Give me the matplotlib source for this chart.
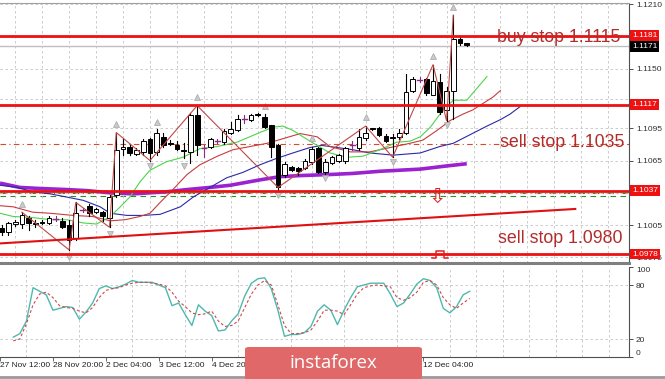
import matplotlib
matplotlib.use("Agg")
import matplotlib.pyplot as plt
from matplotlib.patches import Rectangle, FancyBboxPatch
from matplotlib.lines import Line2D

# ---------------- data ----------------
opens = [1.1002, 1.0999, 1.1006, 1.1006, 1.1012, 1.1007, 1.1008, 1.1007, 1.1011, 1.1009,
         1.1005, 1.0993, 1.1019, 1.1023, 1.1017, 1.1017, 1.1012, 1.1033, 1.1076, 1.1078,
         1.1071, 1.1073, 1.1085, 1.1073, 1.1087, 1.1081, 1.1079, 1.1075, 1.1073, 1.1107,
         1.1077, 1.1078, 1.1083, 1.1082, 1.1091, 1.1093, 1.1104, 1.1103, 1.1108, 1.1105,
         1.1098, 1.1079, 1.1052, 1.1059, 1.1058, 1.1058, 1.1064, 1.1077, 1.1054, 1.1063,
         1.1065, 1.1065, 1.1079, 1.1077, 1.1086, 1.1095, 1.1095, 1.1088, 1.1087, 1.1087,
         1.1091, 1.1130, 1.1140, 1.1141, 1.1126, 1.1138, 1.1112, 1.1130, 1.1178, 1.1174]
highs = [1.1005, 1.1008, 1.1010, 1.1017, 1.1013, 1.1010, 1.1010, 1.1013, 1.1013, 1.1012,
         1.1010, 1.1026, 1.1021, 1.1025, 1.1021, 1.1018, 1.1033, 1.1091, 1.1085, 1.1080,
         1.1077, 1.1085, 1.1086, 1.1094, 1.1091, 1.1084, 1.1083, 1.1081, 1.1109, 1.1116,
         1.1079, 1.1086, 1.1085, 1.1094, 1.1101, 1.1107, 1.1107, 1.1108, 1.1109, 1.1108,
         1.1098, 1.1080, 1.1064, 1.1060, 1.1059, 1.1066, 1.1078, 1.1078, 1.1066, 1.1069,
         1.1071, 1.1078, 1.1083, 1.1094, 1.1097, 1.1095, 1.1096, 1.1090, 1.1090, 1.1094,
         1.1145, 1.1143, 1.1143, 1.1142, 1.1154, 1.1145, 1.1133, 1.1200, 1.1180, 1.1174]
lows = [1.0996, 1.0996, 1.1004, 1.1002, 1.1000, 1.1003, 1.1006, 1.1006, 1.1009, 1.1002,
        1.0982, 1.0991, 1.1017, 1.1013, 1.1016, 1.1009, 1.1003, 1.1031, 1.1070, 1.1070,
        1.1070, 1.1070, 1.1065, 1.1070, 1.1078, 1.1079, 1.1075, 1.1067, 1.1063, 1.1070,
        1.1068, 1.1077, 1.1081, 1.1080, 1.1090, 1.1092, 1.1100, 1.1102, 1.1106, 1.1095,
        1.1068, 1.1038, 1.1050, 1.1055, 1.1052, 1.1057, 1.1062, 1.1053, 1.1049, 1.1062,
        1.1064, 1.1063, 1.1075, 1.1075, 1.1084, 1.1093, 1.1088, 1.1082, 1.1068, 1.1085,
        1.1090, 1.1129, 1.1138, 1.1126, 1.1126, 1.1108, 1.1102, 1.1104, 1.1172, 1.1171]
closes = [1.0999, 1.1007, 1.1008, 1.1014, 1.1007, 1.1006, 1.1007, 1.1012, 1.1011, 1.1003,
          1.0991, 1.1016, 1.1019, 1.1016, 1.1020, 1.1013, 1.1031, 1.1075, 1.1078, 1.1072,
          1.1075, 1.1083, 1.1072, 1.1091, 1.1079, 1.1080, 1.1076, 1.1074, 1.1107, 1.1079,
          1.1077, 1.1085, 1.1083, 1.1092, 1.1094, 1.1104, 1.1104, 1.1107, 1.1107, 1.1096,
          1.1078, 1.1040, 1.1062, 1.1056, 1.1055, 1.1065, 1.1076, 1.1054, 1.1064, 1.1068,
          1.1070, 1.1077, 1.1079, 1.1087, 1.1091, 1.1094, 1.1089, 1.1083, 1.1086, 1.1091,
          1.1129, 1.1141, 1.1140, 1.1128, 1.1139, 1.1110, 1.1130, 1.1178, 1.1174, 1.1172]

ma_green_x = [-0.25, 1.7, 4.6, 7.2, 9.7, 12.1, 14.1, 16.1, 17.6, 19.0, 20.5, 22.0, 24.5, 26.9,
              29.4, 32.0, 34.9, 38.3, 40.3, 41.7, 43.2, 44.7, 46.8, 48.7, 51.2, 53.6, 56.1,
              58.6, 60.6, 62.1, 63.6, 65.5, 67.0, 69.0, 70.5, 72.0]
ma_green_y = [1.1016, 1.1013, 1.1012, 1.1010, 1.1010, 1.1007, 1.1006, 1.1013, 1.1022, 1.1031,
              1.1045, 1.1056, 1.1064, 1.1068, 1.1076, 1.1078, 1.1082, 1.1091, 1.1096, 1.1097,
              1.1093, 1.1087, 1.1079, 1.1072, 1.1068, 1.1069, 1.1075, 1.1082, 1.1083, 1.1087,
              1.1096, 1.1112, 1.1121, 1.1121, 1.1132, 1.1143]
ma_red_x = [-0.25, 1.7, 4.6, 7.2, 10.6, 13.5, 16.1, 18.3, 20.5, 22.0, 23.5, 25.4, 27.5, 29.4,
            32.0, 34.3, 39.4, 44.3, 46.8, 48.7, 51.7, 54.6, 57.6, 60.6, 62.5, 64.6, 66.5,
            68.4, 69.9, 71.4, 72.9, 74.0]
ma_red_y = [1.1023, 1.1022, 1.1017, 1.1016, 1.1014, 1.1013, 1.1009, 1.1010, 1.1013, 1.1016,
            1.1026, 1.1038, 1.1052, 1.1061, 1.1069, 1.1075, 1.1081, 1.1090, 1.1087, 1.1078,
            1.1073, 1.1073, 1.1077, 1.1081, 1.1084, 1.1093, 1.1102, 1.1108, 1.1112, 1.1118,
            1.1124, 1.1130]
ma_blue_x = [-0.25, 2.3, 4.6, 7.2, 9.7, 12.1, 14.6, 16.1, 18.6, 21.0, 23.5, 26.5, 28.4, 30.9,
             33.4, 35.8, 38.3, 40.8, 43.2, 45.7, 47.5, 49.8, 52.1, 54.6, 58.1, 62.1, 65.0,
             67.0, 69.5, 72.0, 74.0, 75.4, 76.9]
ma_blue_y = [1.1042, 1.1040, 1.1036, 1.1034, 1.1031, 1.1028, 1.1022, 1.1016, 1.1014, 1.1014,
             1.1015, 1.1022, 1.1031, 1.1040, 1.1049, 1.1054, 1.1061, 1.1067, 1.1072, 1.1077,
             1.1079, 1.1077, 1.1075, 1.1072, 1.1070, 1.1072, 1.1078, 1.1081, 1.1089, 1.1097,
             1.1103, 1.1108, 1.1115]
ma_purple_x = [-0.25, 2.7, 5.7, 9.7, 12.7, 16.1, 19.5, 22.0, 24.5, 27.5, 30.9, 33.9, 38.3,
               41.3, 44.3, 48.7, 52.1, 56.1, 62.1, 66.1, 69.0]
ma_purple_y = [1.1044, 1.1040, 1.1039, 1.1038, 1.1037, 1.1035, 1.1034, 1.1035, 1.1036, 1.1038,
               1.1040, 1.1042, 1.1047, 1.1050, 1.1051, 1.1052, 1.1053, 1.1055, 1.1057, 1.1060,
               1.1062]

zigzag_x = [3, 10, 11, 16, 17, 22, 29, 41, 54, 58, 64, 66, 67]
zigzag_y = [1.1017, 1.0982, 1.1026, 1.1003, 1.1091, 1.1065, 1.1116, 1.1040, 1.1097, 1.1068,
            1.1154, 1.1102, 1.1200]

frac_up_x = [3, 17, 23, 29, 39, 46, 54, 64, 67]
frac_up_y = [1.1025, 1.1099, 1.1101, 1.1124, 1.1116, 1.1086, 1.1105, 1.1162, 1.1208]
frac_dn_x = [10, 16, 22, 27, 41, 48, 58, 66]
frac_dn_y = [1.0975, 1.0997, 1.1060, 1.1060, 1.1033, 1.1049, 1.1064, 1.1098]

trend_x = [-0.25, 85.1]
trend_y = [1.0988, 1.1020]

level_prices = [1.1181, 1.1117, 1.1037, 1.0978]
level_labels = ["1.1181", "1.1117", "1.1037", "1.0978"]
current_price = 1.1171
sell_dash_price = 1.1080
green_dash_prices = [1.10348, 1.10320]

price_ticks = [1.1210, 1.1180, 1.1150, 1.1122, 1.1095, 1.1065, 1.1035, 1.1005, 1.0975]
price_tick_labels = ["1.1210", "", "1.1150", "", "1.1095", "1.1065", "", "1.1005", "1.0975"]

stoch_main = [22, 26, 40, 77, 73, 69, 52, 54, 56, 55, 42, 50, 60, 76, 79, 76, 78, 81, 85, 83,
              83, 83, 80, 77, 57, 60, 47, 35, 58, 51, 46, 29, 30, 40, 48, 68, 82, 87, 88, 76,
              52, 23, 25, 25, 27, 34, 51, 58, 52, 36, 52, 66, 78, 80, 82, 82, 82, 70, 56, 60,
              70, 81, 87, 85, 77, 54, 49, 56, 69, 73]
stoch_signal = [18, 20, 37, 58, 70, 72, 66, 57, 55, 54, 51, 49, 55, 66, 74, 76, 77, 80, 82, 83,
                83, 82, 81, 79, 72, 62, 56, 49, 47, 48, 51, 40, 34, 35, 40, 55, 70, 80, 85, 80,
                58, 35, 26, 26, 27, 30, 40, 52, 52, 51, 47, 58, 70, 77, 79, 80, 79, 78, 66, 63,
                66, 72, 83, 85, 80, 66, 58, 54, 60, 65]
stoch_levels = [20, 80]
stoch_ticks = [0, 20, 80, 100]

# labels hidden behind the logo in the reference (6, 9, 10 Dec) are left out
date_bars = [-2, 6, 14, 22, 30, 62]
date_labels = ["27 Nov 12:00", "28 Nov 20:00", "2 Dec 04:00", "3 Dec 12:00", "4 Dec 20:00",
               "12 Dec 04:00"]
date_tick_bars = [-2, 6, 14, 22, 30, 38, 46, 54, 62]
grid_bars = list(range(2, 94, 4))

notes = [("buy stop 1.1115", 73.5, 1.11797),
         ("sell stop 1.1035", 74.0, 1.1082),
         ("sell stop 1.0980", 73.6, 1.0993)]

pulse_x = [63.9, 64.4, 64.4, 65.6, 65.6, 66.2]
pulse_y = [1.0974, 1.0974, 1.0981, 1.0981, 1.0974, 1.0974]
arrow_pos = (64.6, 1.1031)

SMALL_FONT = "Liberation Sans"

# ---------------- figure ----------------
W, H = 665, 379
fig = plt.figure(figsize=(W / 100, H / 100), dpi=100)
fig.patch.set_facecolor("white")


def fy(py):
    return 1 - py / H


ax = fig.add_axes([0, fy(263), 629 / W, (263 - 3) / H])
ax2 = fig.add_axes([0, fy(357), 629 / W, (357 - 267) / H])

XMIN, XMAX = -0.25, 93.07
ax.set_xlim(XMIN, XMAX)
ax.set_ylim(1.09698, 1.12113)
ax2.set_xlim(XMIN, XMAX)
ax2.set_ylim(0, 100)

grid_kw = dict(color="#c4c4c4", lw=0.6, ls=(0, (3, 3)))
for a in (ax, ax2):
    a.set_xticks(grid_bars, minor=True)
    a.grid(True, which="minor", axis="x", **grid_kw)
    a.tick_params(axis="x", which="minor", length=0)
ax.set_xticks([])
ax.set_yticks(price_ticks)
ax.set_yticklabels(price_tick_labels, family=SMALL_FONT)
ax.grid(True, which="major", axis="y", **grid_kw)
ax.yaxis.tick_right()
ax.tick_params(axis="y", labelsize=6.0, colors="#303030", length=3, width=0.6, pad=2)

ax.spines["left"].set_visible(False)
ax2.spines["left"].set_visible(False)
ax.spines["top"].set_color("#a0a0a0")
ax.spines["right"].set_color("#505050")
ax.spines["bottom"].set_color("#808080")
ax.spines["bottom"].set_linewidth(2.2)
ax2.spines["top"].set_visible(False)
ax2.spines["right"].set_color("#505050")
ax2.spines["bottom"].set_color("#505050")

# candles
bw = 0.7
for i in range(len(opens)):
    o, h, l, c = opens[i], highs[i], lows[i], closes[i]
    if o == c:
        ax.plot([i, i], [l, h], color="#8a2a8a", lw=0.8, zorder=3)
        ax.plot([i - bw / 2, i + bw / 2], [o, o], color="#8a2a8a", lw=1.0, zorder=3)
        continue
    ax.plot([i, i], [l, h], color="black", lw=0.8, zorder=3)
    fc = "white" if c > o else "black"
    ax.add_patch(Rectangle((i - bw / 2, min(o, c)), bw, max(abs(c - o), 0.00008),
                           facecolor=fc, edgecolor="black", lw=0.7, zorder=4))

# moving averages
ax.plot(ma_purple_x, ma_purple_y, color="#9a22d0", lw=2.6, zorder=2, solid_capstyle="butt")
ax.plot(ma_blue_x, ma_blue_y, color="#2a2aa8", lw=0.8, zorder=2)
ax.plot(ma_red_x, ma_red_y, color="#c83c3c", lw=0.8, zorder=2)
ax.plot(ma_green_x, ma_green_y, color="#4cd44c", lw=0.8, zorder=2)
ax.plot(zigzag_x, zigzag_y, color="#c04848", lw=0.8, zorder=5)

# fractals
ax.plot(frac_up_x, frac_up_y, ls="none", marker="^", ms=5, mfc="#cacaca", mec="#a6a6a6",
        mew=0.5, zorder=5)
ax.plot(frac_dn_x, frac_dn_y, ls="none", marker="v", ms=5, mfc="#cacaca", mec="#a6a6a6",
        mew=0.5, zorder=5)

# levels
for p in level_prices:
    ax.axhline(p, color="#ee1111", lw=2.0, zorder=6)
ax.axhline(current_price, color="#c0c0c0", lw=1.0, zorder=1)
ax.axhline(sell_dash_price, color="#d84a2a", lw=0.8, ls=(0, (5, 3, 1, 3)), zorder=1)
ax.axhline(green_dash_prices[0], color="#2e8b2e", lw=0.8, ls=(0, (6, 3, 1, 3)), zorder=1)
ax.axhline(green_dash_prices[1], color="#2e8b2e", lw=0.8, ls=(0, (5, 4)), zorder=1)
ax.plot(trend_x, trend_y, color="#e01010", lw=1.5, zorder=6)
ax.plot(pulse_x, pulse_y, color="#e02020", lw=1.1, zorder=7)
ax.text(arrow_pos[0], arrow_pos[1], "\u21e9", color="#e02020", fontsize=15,
        ha="center", va="center", zorder=7, family="DejaVu Sans")

for txt, bx, py in notes:
    ax.text(bx, py, txt, color="#b22c2c", fontsize=12.8, family="Liberation Sans",
            ha="left", va="center", zorder=8)

# price boxes
ytr = ax.get_yaxis_transform()
for p, lab in zip(level_prices, level_labels):
    ax.text(1.005, p, lab, transform=ytr, fontsize=6.0, family=SMALL_FONT, color="white",
            ha="left", va="center", zorder=10, clip_on=False,
            bbox=dict(boxstyle="square,pad=0.2", fc="#ee1111", ec="none"))
ax.text(1.005, current_price, f"{current_price:.4f}", transform=ytr, fontsize=6.0,
        family=SMALL_FONT, color="white", ha="left", va="center", zorder=10, clip_on=False,
        bbox=dict(boxstyle="square,pad=0.2", fc="black", ec="none"))

# stochastic
xs = list(range(len(stoch_main)))
ax2.plot(xs, stoch_main, color="#4fb8ae", lw=1.0, zorder=3)
ax2.plot(xs, stoch_signal, color="#d04848", lw=0.8, ls=(0, (2.5, 2)), zorder=3)
for lv in stoch_levels:
    ax2.axhline(lv, **grid_kw)
ax2.yaxis.tick_right()
ax2.set_yticks(stoch_ticks)
ax2.set_yticklabels([str(t) for t in stoch_ticks], family=SMALL_FONT)
ax2.tick_params(axis="y", labelsize=6.0, colors="#303030", length=3, width=0.6, pad=2)
for t, lab in zip(stoch_ticks, ax2.get_yticklabels()):
    if t == 100:
        lab.set_va("top")
    elif t == 0:
        lab.set_va("bottom")
ax2.set_xticks(date_tick_bars)
ax2.set_xticklabels([])
ax2.tick_params(axis="x", length=3, width=0.6, colors="#505050")
xtr = ax2.get_xaxis_transform()
for b, lab in zip(date_bars, date_labels):
    ax2.text(b, -0.09, lab, transform=xtr, ha="left", va="center", fontsize=6.0,
             family=SMALL_FONT, color="#202020", clip_on=False)

# bottom window border
fig.add_artist(Line2D([0, 1], [fy(377), fy(377)], color="#9a9a9a", lw=2.0))

# logo
logo = FancyBboxPatch((245 / W, fy(380)), (422 - 245) / W, (380 - 347) / H,
                      boxstyle="round,pad=0,rounding_size=0.006", fc="#e06868", ec="none",
                      transform=fig.transFigure, zorder=20)
fig.add_artist(logo)
fig.text(333 / W, fy(363), "instaforex", color="white", fontsize=13.5, family="Open Sans",
         ha="center", va="center", zorder=21)

fig.savefig("out.png", dpi=100)
